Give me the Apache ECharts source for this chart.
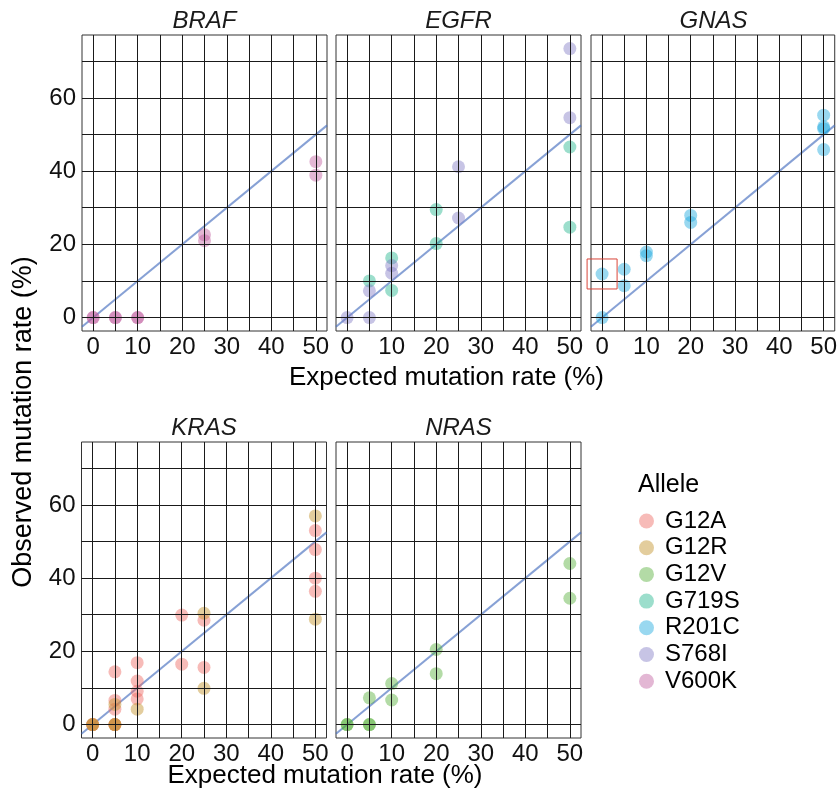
<!DOCTYPE html>
<html>
<head>
<meta charset="utf-8">
<script src="https://cdn.jsdelivr.net/npm/echarts@6/dist/echarts.min.js"></script>
<style>
  html, body { margin: 0; padding: 0; background: #fff; }
  #chart { width: 840px; height: 795px; }
</style>
</head>
<body>
<div id="chart"></div>
<script>
// Genes (facets) and alleles
const panels = ['BRAF', 'EGFR', 'GNAS', 'KRAS', 'NRAS'];
const alleles = ['G12A', 'G12R', 'G12V', 'G719S', 'R201C', 'S768I', 'V600K'];

// Observed vs expected mutation rate (%), [expected, observed]
const brafV600K = [[0, 0], [0, 0], [5, 0], [5, 0], [10, 0], [10, 0], [25, 22.6], [25, 21.0], [50, 42.6], [50, 38.9]];
const egfrG719S = [[5, 10.0], [10, 16.3], [10, 7.4], [20, 29.5], [20, 20.2], [50, 46.6], [50, 24.7]];
const egfrS768I = [[0, 0], [5, 0], [5, 7.3], [10, 14.2], [10, 12.1], [25, 41.2], [25, 27.2], [50, 73.5], [50, 54.6]];
const gnasR201C = [[0, 0], [0, 11.9], [5, 13.2], [5, 8.7], [10, 17.9], [10, 16.9], [20, 27.9], [20, 26.0], [50, 55.3], [50, 52.1], [50, 51.6], [50, 45.9]];
const krasG12A = [[0, 0], [0, 0], [5, 14.4], [5, 6.6], [5, 4.2], [5, 0], [5, 0], [10, 16.9], [10, 11.9], [10, 9.1], [10, 7.0], [20, 29.9], [20, 16.5], [25, 28.5], [25, 15.6], [50, 53.0], [50, 47.8], [50, 40.0], [50, 36.4]];
const krasG12R = [[0, 0], [0, 0], [5, 5.5], [5, 0], [5, 0], [10, 4.2], [25, 30.4], [25, 9.9], [50, 57.0], [50, 28.8]];
const nrasG12V = [[0, 0], [0, 0], [5, 0], [5, 0], [5, 7.3], [10, 11.2], [10, 6.7], [20, 20.5], [20, 13.9], [50, 44.0], [50, 34.5]];

// Identity reference line y = x across the panel range
const refLine = [[-2.5, -2.5], [52.5, 52.5]];

// Axis ticks and grid lines
const xTicks = [0, 10, 20, 30, 40, 50];
const yTicks = [0, 20, 40, 60];
const xGridLines = [0, 5, 10, 15, 20, 25, 30, 35, 40, 45, 50];
const yGridLines = [0, 10, 20, 30, 40, 50, 60, 70];

// Point series per facet
const panelSeries = [
  { panel: 0, allele: 'V600K', data: brafV600K },
  { panel: 1, allele: 'G719S', data: egfrG719S },
  { panel: 1, allele: 'S768I', data: egfrS768I },
  { panel: 2, allele: 'R201C', data: gnasR201C },
  { panel: 3, allele: 'G12A', data: krasG12A },
  { panel: 3, allele: 'G12R', data: krasG12R },
  { panel: 4, allele: 'G12V', data: nrasG12V }
];

const alleleColors = {
  G12A: 'rgba(236,100,94,0.55)',
  G12R: 'rgba(196,150,50,0.6)',
  G12V: 'rgba(83,172,53,0.55)',
  G719S: 'rgba(29,180,140,0.55)',
  R201C: 'rgba(22,166,221,0.55)',
  S768I: 'rgba(128,120,196,0.55)',
  V600K: 'rgba(192,92,158,0.55)'
};

const FONT = '"Liberation Sans", Arial, Helvetica, sans-serif';
const boxes = [
  { left: 82, top: 35 }, { left: 336, top: 35 }, { left: 591, top: 35 },
  { left: 81.5, top: 442 }, { left: 336, top: 442 }
];
const W = 245, H = 296;

const grids = boxes.map(b => ({
  left: b.left, top: b.top, width: W, height: H,
  show: true, borderColor: '#333', borderWidth: 1, backgroundColor: '#fff'
}));

const xAxes = panels.map((p, i) => ({
  type: 'value', gridIndex: i, min: -2.5, max: 52.5,
  axisLine: { show: false }, splitLine: { show: false },
  axisTick: { show: true, customValues: xTicks, length: 3.5, lineStyle: { color: '#333', width: 1 } },
  axisLabel: { customValues: xTicks, fontSize: 24, color: '#111', margin: 4, fontFamily: FONT }
}));

const yAxes = panels.map((p, i) => {
  const leftCol = (i === 0 || i === 3);
  return {
    type: 'value', gridIndex: i, min: -3.68, max: 77.2,
    axisLine: { show: false }, splitLine: { show: false },
    axisTick: { show: leftCol, customValues: yTicks, length: 3.5, lineStyle: { color: '#333', width: 1 } },
    axisLabel: { show: leftCol, customValues: yTicks, fontSize: 24, color: '#111', margin: 6, fontFamily: FONT }
  };
});

const series = [];
panels.forEach((p, i) => {
  // panel grid lines
  series.push({
    type: 'line', xAxisIndex: i, yAxisIndex: i, data: [], z: 1, silent: true,
    markLine: {
      silent: true, symbol: 'none', label: { show: false }, animation: false,
      lineStyle: { color: '#1a1a1a', width: 1, type: 'solid' },
      emphasis: { disabled: true },
      data: xGridLines.map(v => ({ xAxis: v })).concat(yGridLines.map(v => ({ yAxis: v })))
    }
  });
  // y = x reference
  series.push({
    type: 'line', xAxisIndex: i, yAxisIndex: i, data: refLine, z: 2, silent: true,
    symbol: 'none', lineStyle: { color: 'rgba(70,110,190,0.65)', width: 2 }
  });
});

panelSeries.forEach(s => {
  series.push({
    name: s.allele, type: 'scatter', xAxisIndex: s.panel, yAxisIndex: s.panel,
    data: s.data, symbol: 'circle', symbolSize: 13, z: 3,
    itemStyle: { color: alleleColors[s.allele], borderWidth: 0 },
    emphasis: { disabled: true }
  });
});

const texts = [];
panels.forEach((p, i) => {
  texts.push({
    type: 'text', x: boxes[i].left + W / 2, y: boxes[i].top - 14,
    style: { text: p, font: 'italic 24px ' + FONT, fill: '#1a1a1a', align: 'center', verticalAlign: 'middle' }
  });
});
texts.push({
  type: 'text', x: 446.5, y: 378,
  style: { text: 'Expected mutation rate (%)', font: '26px ' + FONT, fill: '#000', align: 'center', verticalAlign: 'middle' }
});
texts.push({
  type: 'text', x: 325, y: 776,
  style: { text: 'Expected mutation rate (%)', font: '26px ' + FONT, fill: '#000', align: 'center', verticalAlign: 'middle' }
});
texts.push({
  type: 'text', x: 24, y: 422, rotation: Math.PI / 2,
  style: { text: 'Observed mutation rate (%)', font: '27px ' + FONT, fill: '#000', align: 'center', verticalAlign: 'middle' }
});
texts.push({
  type: 'text', x: 638, y: 485,
  style: { text: 'Allele', font: '25px ' + FONT, fill: '#000', align: 'left', verticalAlign: 'middle' }
});

const chart = echarts.init(document.getElementById('chart'), null, { renderer: 'canvas' });
chart.setOption({
  animation: false,
  backgroundColor: '#fff',
  grid: grids,
  xAxis: xAxes,
  yAxis: yAxes,
  legend: {
    data: alleles, orient: 'vertical', left: 639, top: 509, padding: 0,
    itemWidth: 15, itemHeight: 15, itemGap: 2.7, icon: 'circle',
    selectedMode: false,
    textStyle: { fontSize: 24, color: '#000', fontFamily: FONT, padding: [0, 0, 0, 6] }
  },
  series: series,
  graphic: texts
});

// highlight box around the GNAS point at expected 0%, observed 11.9%
const gnasIdx = series.findIndex(s => s.type === 'scatter' && s.name === 'R201C');
const hp = chart.convertToPixel({ seriesIndex: gnasIdx }, gnasR201C[1]);
chart.setOption({
  graphic: texts.concat([{
    type: 'rect', shape: { x: hp[0] - 15, y: hp[1] - 15, width: 30, height: 30 },
    style: { fill: 'none', stroke: '#d8453a', lineWidth: 1 }, z: 10
  }])
});
</script>
</body>
</html>
